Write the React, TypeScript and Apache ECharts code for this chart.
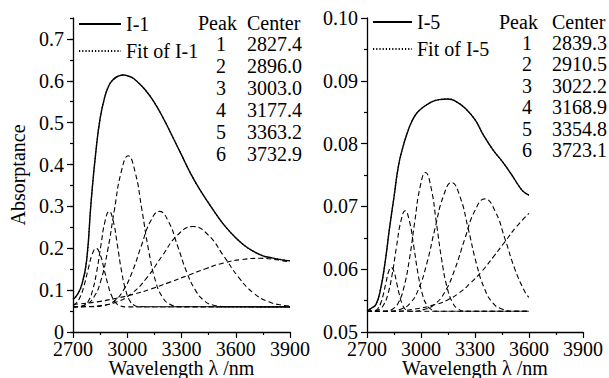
import React, { useEffect, useRef } from "react";
import * as echarts from "echarts";

const FONT = "serif";

const xTicks = [2700, 3000, 3300, 3600, 3900];
const yLabelsI1 = [0, 0.1, 0.2, 0.3, 0.4, 0.5, 0.6, 0.7];
const peakNumbers = [1, 2, 3, 4, 5, 6];
const centersI1 = ["2827.4", "2896.0", "3003.0", "3177.4", "3363.2", "3732.9"];
const centersI5 = ["2839.3", "2910.5", "3022.2", "3168.9", "3354.8", "3723.1"];

// ---------- Panel I-1 ----------
const absI1: [number, number][] = [
  [2700, 0.078], [2725, 0.09], [2750, 0.115], [2775, 0.17], [2800, 0.31], [2825, 0.425],
  [2850, 0.51], [2875, 0.56], [2900, 0.59], [2925, 0.604], [2950, 0.611], [2980, 0.614],
  [3000, 0.612], [3025, 0.608], [3050, 0.6], [3100, 0.578], [3150, 0.548], [3200, 0.51],
  [3250, 0.467], [3300, 0.423], [3350, 0.379], [3400, 0.341], [3450, 0.308], [3500, 0.276],
  [3550, 0.248], [3600, 0.225], [3650, 0.206], [3700, 0.192], [3750, 0.182], [3800, 0.177],
  [3850, 0.173], [3900, 0.17],
];
const fitI1 = absI1;
const peak1I1: [number, number][] = [
  [2700, 0.063], [2718, 0.069], [2740, 0.084], [2762, 0.112], [2784, 0.15], [2806, 0.185],
  [2828, 0.2], [2850, 0.185], [2872, 0.15], [2894, 0.112], [2916, 0.084], [2938, 0.069],
  [2960, 0.0626], [2993, 0.06], [3900, 0.06],
];
const peak2I1: [number, number][] = [
  [2700, 0.06], [2728, 0.0605], [2762, 0.064], [2785, 0.074], [2808, 0.099], [2831, 0.144],
  [2854, 0.206], [2877, 0.264], [2900, 0.288], [2923, 0.264], [2946, 0.206], [2969, 0.144],
  [2992, 0.099], [3015, 0.074], [3038, 0.064], [3072, 0.0605], [3900, 0.06],
];
const peak3I1: [number, number][] = [
  [2700, 0.0605], [2720, 0.0607], [2777, 0.067], [2815, 0.083], [2853, 0.121], [2891, 0.193],
  [2929, 0.292], [2967, 0.383], [3005, 0.421], [3043, 0.383], [3081, 0.292], [3119, 0.193],
  [3157, 0.121], [3195, 0.083], [3233, 0.067], [3290, 0.0607], [3900, 0.06],
];
const peak4I1: [number, number][] = [
  [2700, 0.06], [2803, 0.0605], [2878, 0.064], [2928, 0.074], [2978, 0.099], [3028, 0.144],
  [3078, 0.206], [3128, 0.264], [3178, 0.288], [3228, 0.264], [3278, 0.206], [3328, 0.144],
  [3378, 0.099], [3428, 0.074], [3478, 0.064], [3553, 0.0605], [3900, 0.06],
];
const peak5I1: [number, number][] = [
  [2700, 0.0602], [2733, 0.0604], [2859, 0.0635], [2943, 0.072], [3027, 0.093], [3111, 0.131],
  [3195, 0.183], [3279, 0.232], [3363, 0.252], [3447, 0.232], [3531, 0.183], [3615, 0.131],
  [3699, 0.093], [3783, 0.072], [3867, 0.0635], [3900, 0.062],
];
const peak6I1: [number, number][] = [
  [2700, 0.066], [2733, 0.067], [2833, 0.072], [2933, 0.08], [3033, 0.09], [3133, 0.103],
  [3233, 0.1185], [3333, 0.135], [3433, 0.151], [3533, 0.165], [3633, 0.173], [3733, 0.176],
  [3800, 0.174], [3850, 0.171], [3900, 0.167],
];

// ---------- Panel I-5 ----------
const absI5: [number, number][] = [
  [2700, 0.0533], [2725, 0.0538], [2750, 0.0544], [2775, 0.0568], [2800, 0.061], [2825, 0.0665],
  [2850, 0.0715], [2875, 0.0765], [2900, 0.0795], [2925, 0.0818], [2950, 0.0836], [2975, 0.0848],
  [3000, 0.0855], [3050, 0.0865], [3100, 0.087], [3150, 0.0871], [3200, 0.0866], [3250, 0.0855],
  [3300, 0.0838], [3350, 0.0812], [3400, 0.079], [3450, 0.0772], [3500, 0.0752], [3550, 0.073],
  [3575, 0.0722], [3600, 0.0718],
];
const fitI5 = absI5;
const peak1I5: [number, number][] = [
  [2700, 0.0533], [2723, 0.0533], [2745, 0.0534], [2760, 0.0537], [2775, 0.0545], [2790, 0.0559],
  [2805, 0.0578], [2820, 0.0596], [2835, 0.0603], [2850, 0.0596], [2865, 0.0578], [2880, 0.0559],
  [2895, 0.0545], [2910, 0.0537], [2925, 0.0534], [2947, 0.0533], [3600, 0.0533],
];
const peak2I5: [number, number][] = [
  [2700, 0.0533], [2732, 0.0533], [2768, 0.0536], [2792, 0.0543], [2816, 0.056], [2840, 0.0592],
  [2864, 0.0636], [2888, 0.0676], [2912, 0.0693], [2936, 0.0676], [2960, 0.0636], [2984, 0.0592],
  [3008, 0.056], [3032, 0.0543], [3056, 0.0536], [3092, 0.0533], [3600, 0.0533],
];
const peak3I5: [number, number][] = [
  [2700, 0.0533], [2800, 0.0533], [2845, 0.0537], [2875, 0.0547], [2905, 0.0571], [2935, 0.0615],
  [2965, 0.0675], [2995, 0.0731], [3025, 0.0754], [3055, 0.0731], [3085, 0.0675], [3115, 0.0615],
  [3145, 0.0571], [3175, 0.0547], [3205, 0.0537], [3250, 0.0533], [3600, 0.0533],
];
const peak4I5: [number, number][] = [
  [2700, 0.0533], [2825, 0.0533], [2894, 0.0537], [2940, 0.0546], [2986, 0.0568], [3032, 0.0609],
  [3078, 0.0665], [3124, 0.0716], [3170, 0.0738], [3216, 0.0716], [3262, 0.0665], [3308, 0.0609],
  [3354, 0.0568], [3400, 0.0546], [3446, 0.0537], [3515, 0.0533], [3600, 0.0533],
];
const peak5I5: [number, number][] = [
  [2700, 0.0533], [2935, 0.0533], [3019, 0.0536], [3075, 0.0544], [3131, 0.0563], [3187, 0.0599],
  [3243, 0.0648], [3299, 0.0693], [3355, 0.0712], [3411, 0.0693], [3467, 0.0648], [3523, 0.0599],
  [3579, 0.0563], [3600, 0.0555],
];
const peak6I5: [number, number][] = [
  [2700, 0.0533], [2827, 0.0533], [2955, 0.0536], [3083, 0.0544], [3147, 0.0551], [3211, 0.0562],
  [3275, 0.0578], [3339, 0.0597], [3403, 0.062], [3467, 0.0644], [3531, 0.0668], [3600, 0.0689],
];

const BLACK = "#000";

function solid(name: string, data: [number, number][], xi: number, yi: number) {
  return {
    name, type: "line", data, xAxisIndex: xi, yAxisIndex: yi, symbol: "none", smooth: true,
    silent: true, z: 4, lineStyle: { color: BLACK, width: 1.4, type: "solid" },
    itemStyle: { color: BLACK },
  };
}
function dotted(name: string, data: [number, number][], xi: number, yi: number) {
  return {
    name, type: "line", data, xAxisIndex: xi, yAxisIndex: yi, symbol: "none", smooth: true,
    silent: true, z: 3, lineStyle: { color: BLACK, width: 1.2, type: [1.2, 2] },
    itemStyle: { color: BLACK },
  };
}
function dashed(data: [number, number][], xi: number, yi: number) {
  return {
    type: "line", data, xAxisIndex: xi, yAxisIndex: yi, symbol: "none", smooth: true,
    silent: true, z: 2, lineStyle: { color: BLACK, width: 1.1, type: [5, 3] },
  };
}

const textStyle = { fontFamily: FONT, fontSize: 20, color: BLACK };
const labelStyle = { ...textStyle, lineHeight: 16 };

function xAxis(gridIndex: number) {
  return {
    gridIndex, type: "value", min: xTicks[0], max: xTicks[xTicks.length - 1], interval: 300,
    axisLine: { show: true, lineStyle: { color: BLACK, width: 1.3 } },
    axisTick: { show: true, inside: false, length: 6, lineStyle: { color: BLACK, width: 1.2 } },
    minorTick: { show: true, splitNumber: 2, length: 3, lineStyle: { color: BLACK, width: 1.2 } },
    splitLine: { show: false },
    axisLabel: { ...labelStyle, margin: 9, formatter: (v: number) => String(v) },
    name: "Wavelength λ /nm", nameLocation: "middle", nameGap: 28, nameMoveOverlap: false,
    nameTextStyle: { ...textStyle, lineHeight: 16 },
  };
}

function legendCfg(names: string[], left: number, top: number, w: number) {
  return {
    data: names, orient: "vertical", left, top, padding: 0,
    itemWidth: w, itemHeight: 14, itemGap: 7, selectedMode: false,
    itemStyle: { opacity: 0, color: "transparent", borderWidth: 0 },
    textStyle: { ...textStyle },
  };
}

function tableGraphics(x0Peak: number, xNum: number, xCenter: number, yHeader: number, yRow0: number, dy: number, centers: string[]) {
  const els: any[] = [];
  const st = (text: string, align: string) => ({
    text, fontFamily: FONT, fontSize: 20, fill: BLACK, align, verticalAlign: "middle",
  });
  els.push({ type: "text", x: x0Peak, y: yHeader, style: st("Peak", "left") });
  els.push({ type: "text", x: xCenter, y: yHeader, style: st("Center", "left") });
  peakNumbers.forEach((n, i) => {
    els.push({ type: "text", x: xNum, y: yRow0 + dy * i, style: st(String(n), "center") });
    els.push({ type: "text", x: xCenter, y: yRow0 + dy * i, style: st(centers[i], "left") });
  });
  return els;
}

export default function App() {
  const ref = useRef<HTMLDivElement>(null);
  useEffect(() => {
    if (!ref.current) return;
    const chart = echarts.init(ref.current, null, { renderer: "svg" });
    const option: any = {
      animation: false,
      backgroundColor: "#fff",
      textStyle: { fontFamily: FONT },
      grid: [
        { left: 73, top: 18, width: 217, height: 314, outerBoundsMode: "none", containLabel: false },
        { left: 367, top: 18, width: 216, height: 314, outerBoundsMode: "none", containLabel: false },
      ],
      xAxis: [xAxis(0), xAxis(1)],
      yAxis: [
        {
          gridIndex: 0, type: "value", min: 0, max: 0.75, interval: 0.05,
          axisLine: { show: true, lineStyle: { color: BLACK, width: 1.3 } },
          axisTick: { show: true, inside: false, length: 3, lineStyle: { color: BLACK, width: 1.2 } },
          axisLabel: { show: false }, splitLine: { show: false },
        },
        {
          gridIndex: 0, type: "value", min: 0, max: 0.75, position: "left",
          axisLine: { show: false },
          axisTick: { show: true, inside: false, length: 6, customValues: yLabelsI1, lineStyle: { color: BLACK, width: 1.2 } },
          axisLabel: {
            ...labelStyle, margin: 9, customValues: yLabelsI1,
            formatter: (v: number) => (v === 0 ? "0" : v.toFixed(1)),
          },
          splitLine: { show: false },
          name: "Absorptance", nameLocation: "middle", nameGap: 45, nameRotate: 90,
          nameTextStyle: { ...textStyle },
        },
        {
          gridIndex: 1, type: "value", min: 0.05, max: 0.1, interval: 0.01,
          axisLine: { show: true, lineStyle: { color: BLACK, width: 1.3 } },
          axisTick: { show: true, inside: false, length: 6, lineStyle: { color: BLACK, width: 1.2 } },
          minorTick: { show: true, splitNumber: 2, length: 3, lineStyle: { color: BLACK, width: 1.2 } },
          axisLabel: { ...labelStyle, margin: 9, formatter: (v: number) => v.toFixed(2) },
          splitLine: { show: false },
        },
      ],
      legend: [
        legendCfg(["I-1", "Fit of I-1"], 78, 14, 42),
        legendCfg(["I-5", "Fit of I-5"], 372, 12, 39),
      ],
      graphic: [
        ...tableGraphics(198, 221, 247, 23, 43.5, 22, centersI1),
        ...tableGraphics(499, 527, 552, 21.5, 43, 21.4, centersI5),
      ],
      series: [
        dashed(peak1I1, 0, 0), dashed(peak2I1, 0, 0), dashed(peak3I1, 0, 0),
        dashed(peak4I1, 0, 0), dashed(peak5I1, 0, 0), dashed(peak6I1, 0, 0),
        dotted("Fit of I-1", fitI1, 0, 0),
        solid("I-1", absI1, 0, 0),
        dashed(peak1I5, 1, 2), dashed(peak2I5, 1, 2), dashed(peak3I5, 1, 2),
        dashed(peak4I5, 1, 2), dashed(peak5I5, 1, 2), dashed(peak6I5, 1, 2),
        dotted("Fit of I-5", fitI5, 1, 2),
        solid("I-5", absI5, 1, 2),
      ],
    };
    chart.setOption(option);
    return () => chart.dispose();
  }, []);
  return (
    <div
      ref={ref}
      style={{ position: "fixed", left: 0, top: 0, width: 609, height: 378, background: "#fff" }}
    />
  );
}
